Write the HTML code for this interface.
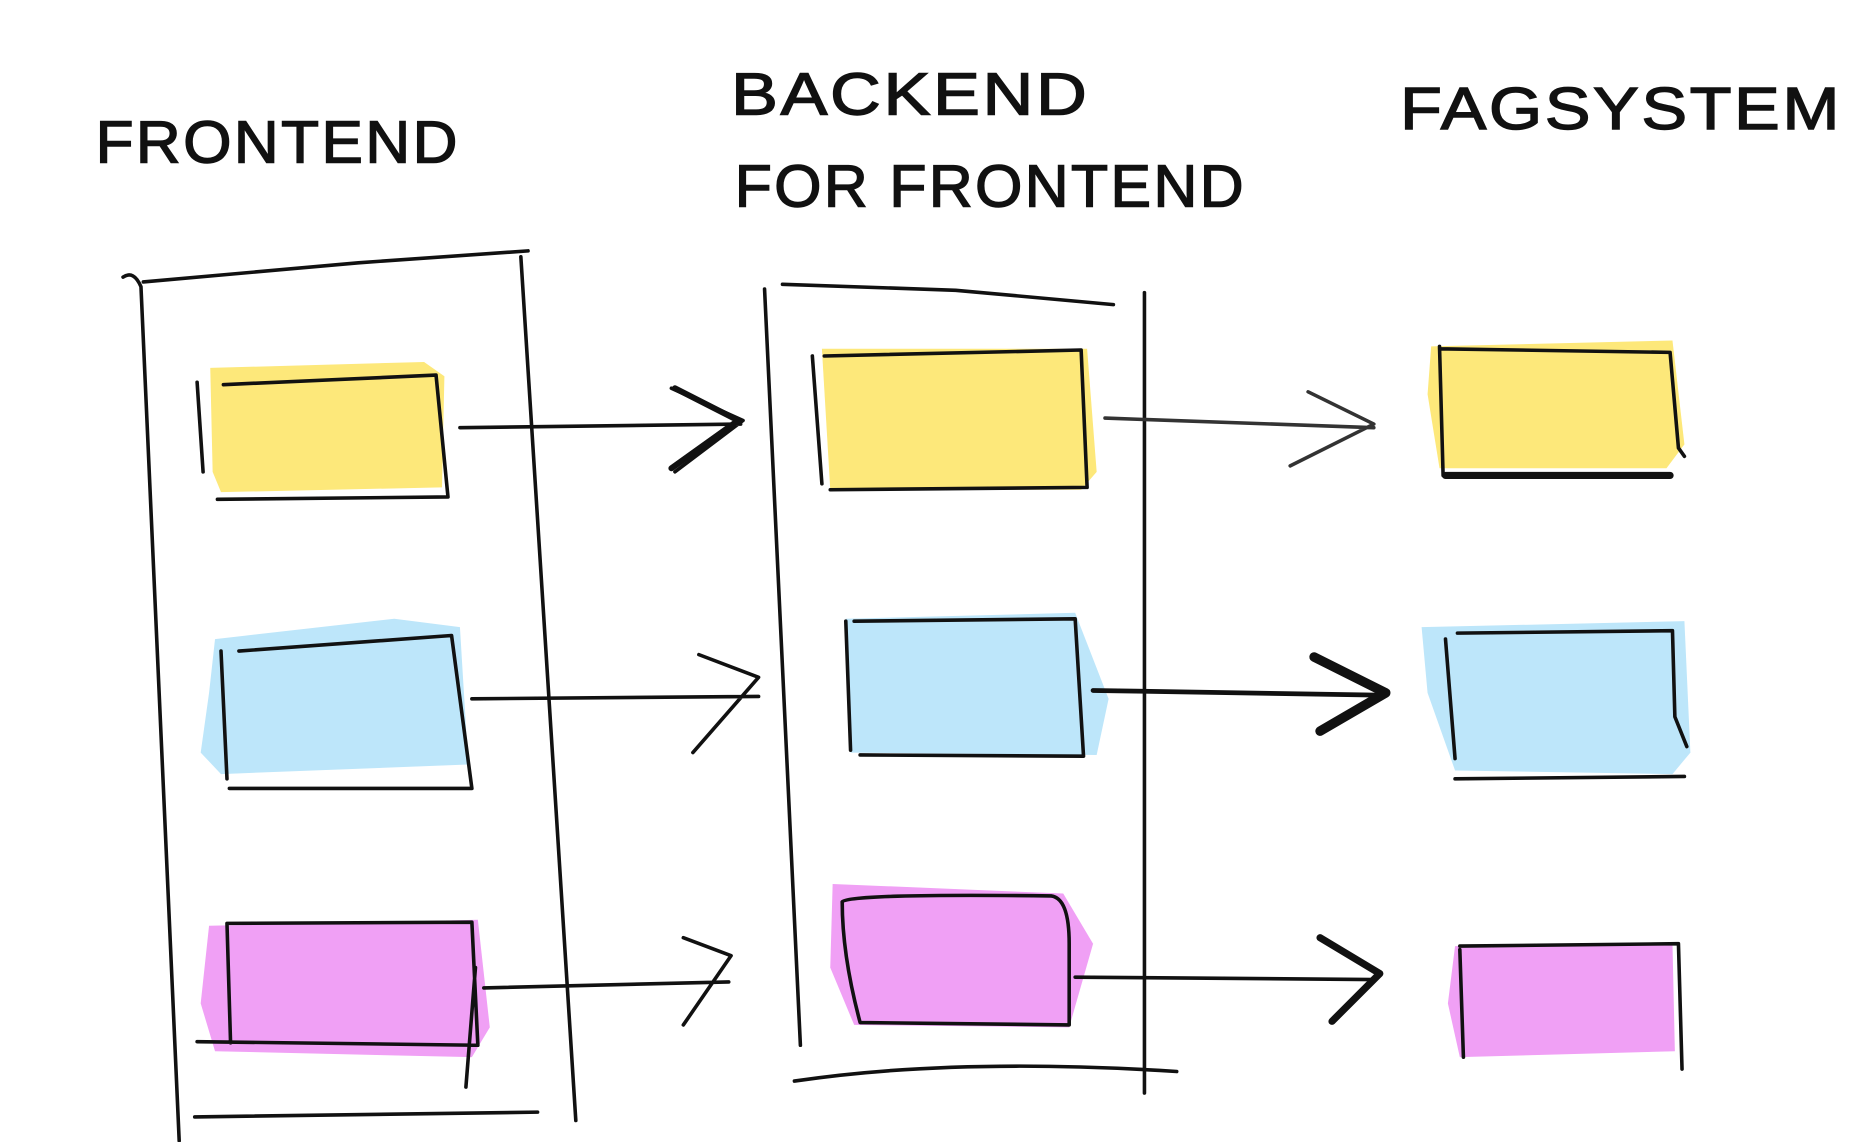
<!DOCTYPE html>
<html><head><meta charset="utf-8"><style>
html,body{margin:0;padding:0;background:#fff;width:1866px;height:1142px;overflow:hidden}
svg{display:block}
text{font-family:"Liberation Sans",sans-serif;fill:#111;stroke:#111;stroke-width:1.2}
</style></head><body>
<svg width="1866" height="1142" viewBox="0 0 1562 956" preserveAspectRatio="none" xmlns="http://www.w3.org/2000/svg">
<g font-size="50" letter-spacing="2">
<text x="80" y="136" textLength="305" lengthAdjust="spacingAndGlyphs">FRONTEND</text>
<text x="612" y="96" textLength="300" lengthAdjust="spacingAndGlyphs">BACKEND</text>
<text x="615" y="173" textLength="428" lengthAdjust="spacingAndGlyphs">FOR FRONTEND</text>
<text x="1172" y="108" textLength="370" lengthAdjust="spacingAndGlyphs">FAGSYSTEM</text>
</g>
<!-- fills -->
<g stroke="none">
<path d="M176,308 L355,303 L372,315 L370,408 L185,412 L178,395 Z" fill="#fde87a"/>
<path d="M180,535 L330,518 L385,525 L392,640 L185,648 L168,630 L175,580 Z" fill="#bde6fa"/>
<path d="M175,775 L400,770 L410,860 L395,885 L180,880 L168,840 Z" fill="#f0a0f5"/>
<path d="M688,292 L910,292 L918,395 L905,410 L695,410 Z" fill="#fde87a"/>
<path d="M708,518 L900,513 L928,585 L918,632 L712,630 Z" fill="#bde6fa"/>
<path d="M697,740 L890,748 L915,790 L895,860 L715,858 L695,810 Z" fill="#f0a0f5"/>
<path d="M1198,290 L1400,285 L1410,372 L1395,392 L1205,392 L1195,330 Z" fill="#fde87a"/>
<path d="M1190,525 L1410,520 L1415,630 L1400,648 L1218,645 L1195,580 Z" fill="#bde6fa"/>
<path d="M1218,792 L1400,790 L1402,880 L1222,885 L1212,840 Z" fill="#f0a0f5"/>
</g>
<g fill="none" stroke="#111" stroke-width="3" stroke-linecap="round" stroke-linejoin="round">
<!-- frontend column -->
<path d="M103,232 Q112,226 118,240 L150,955"/>
<path d="M120,236 L300,220 L442,210"/>
<path d="M436,215 L482,938"/>
<path d="M163,935 L450,931"/>
<!-- boxes frontend -->
<path d="M165,320 L170,395 M187,322 L365,314 L375,416 L182,418"/>
<path d="M185,545 L190,652 M200,545 L378,532 L395,660 L192,660"/>
<path d="M190,773 L395,772 L400,875 L165,872 M190,773 L193,873 M398,810 L390,910"/>
<!-- bff column -->
<path d="M640,242 L670,875"/>
<path d="M655,238 L800,243 L932,255"/>
<path d="M958,245 L958,915"/>
<path d="M665,905 Q800,885 985,897"/>
<path d="M680,298 L688,405 M690,298 L905,293 L910,408 L695,410"/>
<path d="M708,520 L712,628 M715,520 L900,518 L907,633 L720,632"/>
<path d="M705,755 Q710,748 880,750 Q895,752 895,790 L895,858 L720,856 Q705,800 705,755"/>
<!-- fagsystem -->
<path d="M1205,290 L1208,398 M1205,292 L1398,295 L1405,375 L1410,382"/>
<path d="M1210,398 L1398,398" stroke-width="6"/>
<path d="M1210,535 L1218,635 M1220,530 L1400,528 L1402,600 L1412,625 M1218,652 L1410,650"/>
<path d="M1222,795 L1225,885 M1222,792 L1405,790 L1408,895"/>
<!-- arrows -->
<path d="M385,358 L620,355 M562,325 L622,352 L565,395" />
<path d="M565,325 L618,352 L562,392" stroke-width="5"/>
<path d="M395,585 L635,583 M585,548 L635,567 L580,630"/>
<path d="M405,827 L610,822 M572,785 L612,800 L572,858"/>
<path d="M925,350 L1150,358 M1095,328 L1150,355 L1080,390" stroke="#333" stroke-width="3"/>
<path d="M915,578 L1160,582" stroke-width="4"/>
<path d="M1100,550 L1160,580 L1105,612" stroke-width="8"/>
<path d="M900,818 L1150,820"/>
<path d="M1105,785 L1155,815 L1115,855" stroke-width="6"/>
</g>
</svg>
</body></html>
